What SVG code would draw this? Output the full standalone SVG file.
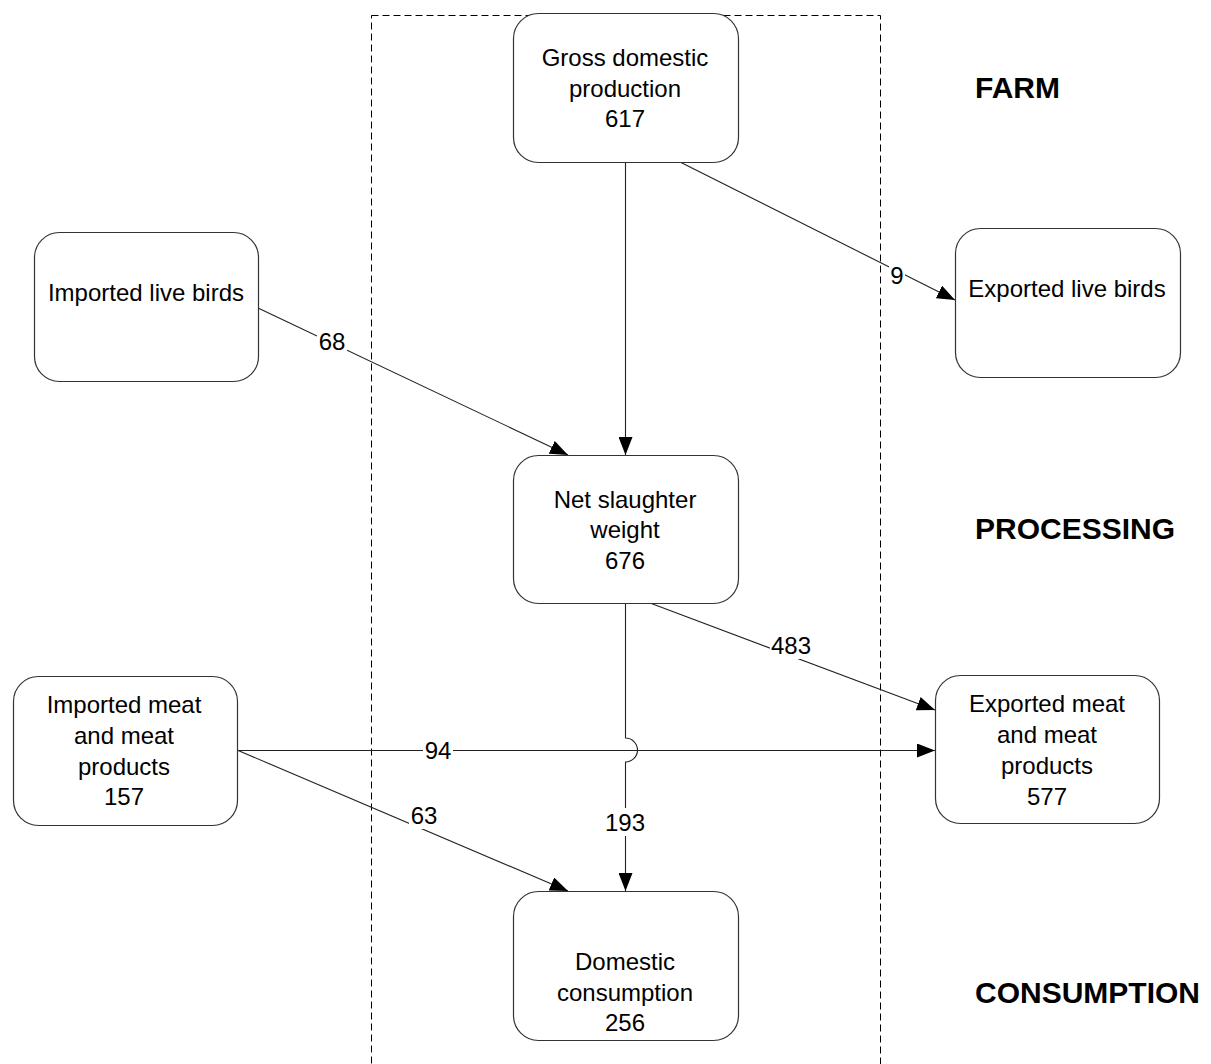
<svg xmlns="http://www.w3.org/2000/svg" width="1211" height="1064" viewBox="0 0 1211 1064">
<style>
.node rect{fill:#fff;stroke:#333;stroke-width:1.2}
.t{font-family:"Liberation Sans",Arial,sans-serif;font-size:24px;fill:#000;text-anchor:middle}
.h{font-family:"Liberation Sans",Arial,sans-serif;font-size:30px;font-weight:bold;fill:#000}
.c{fill:none;stroke:#222;stroke-width:1.1}
.lbl rect{fill:#fff}
</style>
<defs>
<marker id="arr" markerUnits="userSpaceOnUse" markerWidth="20" markerHeight="14" refX="18" refY="7" orient="auto">
<path d="M0,0 L18,7 L0,14 z" fill="#000"/>
</marker>
</defs>
<rect x="371.5" y="15.5" width="509" height="1060" fill="none" stroke="#000" stroke-width="1" stroke-dasharray="7,4"/>
<g id="connectors">
<line class="c" x1="625.5" y1="162" x2="625.5" y2="455" marker-end="url(#arr)"/>
<line class="c" x1="680" y1="162" x2="955" y2="300" marker-end="url(#arr)"/>
<line class="c" x1="258" y1="308" x2="568" y2="455" marker-end="url(#arr)"/>
<line class="c" x1="650" y1="603" x2="935" y2="710" marker-end="url(#arr)"/>
<path class="c" d="M625.5,603 L625.5,738 A12,12 0 0 1 625.5,762 L625.5,891" marker-end="url(#arr)"/>
<line class="c" x1="237" y1="750.5" x2="935" y2="750.5" marker-end="url(#arr)"/>
<line class="c" x1="237" y1="750" x2="568" y2="891" marker-end="url(#arr)"/>
<g class="lbl">
<rect x="889" y="262" width="16" height="28"/><text class="t" x="897" y="284">9</text>
<rect x="317" y="327" width="30" height="28"/><text class="t" x="332" y="350">68</text>
<rect x="770" y="631" width="42" height="28"/><text class="t" x="791" y="654">483</text>
<rect x="423" y="736" width="30" height="28"/><text class="t" x="438" y="759">94</text>
<rect x="409" y="801" width="30" height="28"/><text class="t" x="424" y="824">63</text>
<rect x="604" y="808" width="42" height="28"/><text class="t" x="625" y="831">193</text>
</g>
</g>
<g id="gross" class="node"><rect x="513.5" y="13.5" width="225" height="149" rx="25"/>
<text class="t" x="625" y="66">Gross domestic</text><text class="t" x="625" y="97">production</text><text class="t" x="625" y="127">617</text></g>
<g id="imp-live" class="node"><rect x="34.5" y="232.5" width="224" height="149" rx="25"/>
<text class="t" x="146" y="301">Imported live birds</text></g>
<g id="exp-live" class="node"><rect x="955.5" y="228.5" width="225" height="149" rx="25"/>
<text class="t" x="1067" y="297">Exported live birds</text></g>
<g id="net" class="node"><rect x="513.5" y="455.5" width="225" height="148" rx="25"/>
<text class="t" x="625" y="508">Net slaughter</text><text class="t" x="625" y="538">weight</text><text class="t" x="625" y="569">676</text></g>
<g id="imp-meat" class="node"><rect x="13.5" y="676.5" width="224" height="149" rx="25"/>
<text class="t" x="124" y="713">Imported meat</text><text class="t" x="124" y="744">and meat</text><text class="t" x="124" y="775">products</text><text class="t" x="124" y="805">157</text></g>
<g id="exp-meat" class="node"><rect x="935.5" y="675.5" width="224" height="148" rx="25"/>
<text class="t" x="1047" y="712">Exported meat</text><text class="t" x="1047" y="743">and meat</text><text class="t" x="1047" y="774">products</text><text class="t" x="1047" y="805">577</text></g>
<g id="dom" class="node"><rect x="513.5" y="891.5" width="225" height="149" rx="25"/>
<text class="t" x="625" y="970">Domestic</text><text class="t" x="625" y="1001">consumption</text><text class="t" x="625" y="1031">256</text></g>
<text class="h" x="975" y="98">FARM</text>
<text class="h" x="975" y="539">PROCESSING</text>
<text class="h" x="975" y="1003">CONSUMPTION</text>
</svg>
